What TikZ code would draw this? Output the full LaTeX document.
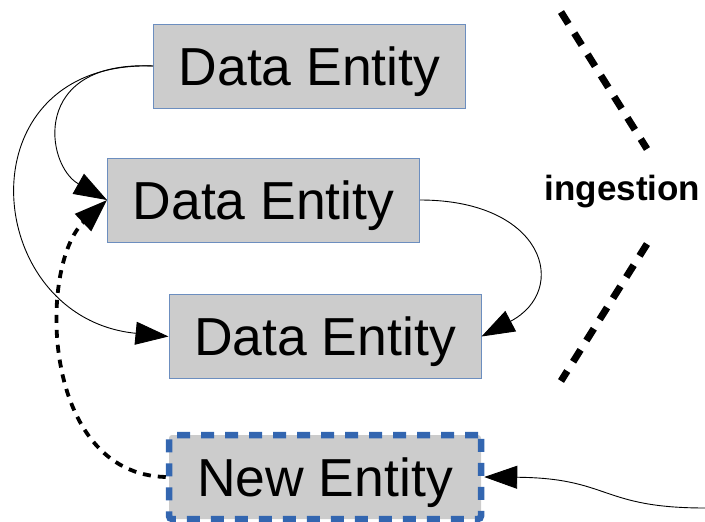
\documentclass[tikz,border=0pt]{standalone}
\usepackage{fontspec}
\setmainfont{Liberation Sans}
\usetikzlibrary{arrows.meta}
\definecolor{boxgray}{HTML}{CCCCCC}
\definecolor{boxline}{HTML}{6C8EBF}
\definecolor{newline}{HTML}{3366B0}

\begin{document}
\begin{tikzpicture}[
    x=1pt, y=-1pt,
    >={Triangle[length=33pt, width=23pt]},
    entity/.style={fill=boxgray, draw=boxline, line width=1pt,
      minimum width=312pt, minimum height=84pt, inner sep=0pt,
      text height=38pt, text depth=0pt,
      font=\fontsize{53.5}{60}\selectfont},
    newentity/.style={entity, draw=newline, line width=6.5pt,
      dash pattern=on 13pt off 11pt, rounded corners=3pt},
    link/.style={->, line width=0.9pt},
    dashlink/.style={->, line width=3.8pt, dash pattern=on 8pt off 7pt},
    divider/.style={line width=7pt, dash pattern=on 14pt off 11pt},
  ]

  % frame
  \useasboundingbox (0,0) rectangle (705,522);

  % === Entities ===
  \node[entity] (d1) at (309.5,66) {Data Entity};
  \node[entity] (d2) at (263.5,200) {Data Entity};
  \node[entity] (d3) at (325,336.5) {Data Entity};
  \node[newentity] (new) at (325,477) {New Entity};

  % === Ingestion divider ===
  \node[font=\fontsize{35}{40}\selectfont\bfseries] (ing) at (622.5,192) {ingestion};
  \coordinate (top1) at (561,12);
  \coordinate (top2) at (647,149);
  \coordinate (bot1) at (647,244);
  \coordinate (bot2) at (561,381);
  \draw[divider] (top1) -- (top2);
  \draw[divider] (bot1) -- (bot2);

  % === Links ===
  \draw[link] (d1.west) .. controls (30,60) and (45,165) .. (d2.west);
  \draw[link] (d1.west) .. controls (-40,60) and (-20,318) .. (d3.west);
  \draw[link] (d2.east) .. controls (545,200) and (570,290) .. (d3.east);
  \draw[dashlink] (new.west) .. controls (40,474) and (38,265) .. (d2.west);

  % incoming
  \coordinate (src) at (705,508);
  \draw[link] (src) .. controls (600,508) and (610,478) .. (new.east);

\end{tikzpicture}
\end{document}
